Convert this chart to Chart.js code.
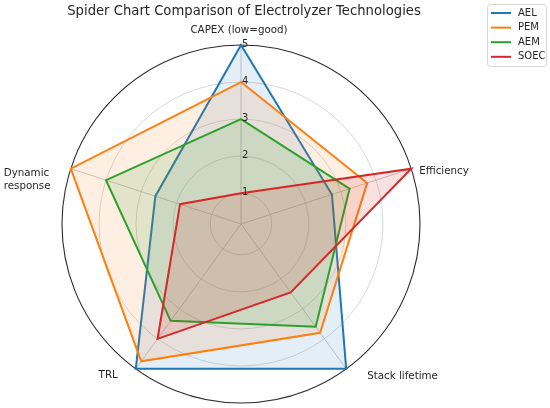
<!DOCTYPE html>
<html>
<head>
<meta charset="utf-8">
<script src="https://cdn.jsdelivr.net/npm/chart.js@4.4.0/dist/chart.umd.min.js"></script>
<style>
  html, body { margin: 0; padding: 0; background: #fff; }
  #wrap { width: 550px; height: 408px; }
</style>
</head>
<body>
<div id="wrap"><canvas id="myChart" width="550" height="408"></canvas></div>
<script>
// data
const axisLabels = ['CAPEX (low=good)', 'Efficiency', 'Stack lifetime', 'TRL', ['Dynamic', 'response']];
const techNames = ['AEL', 'PEM', 'AEM', 'SOEC'];
const aelScores = [5, 2.75, 5, 5, 2.6];
const pemScores = [4, 3.75, 3.8, 4.75, 5];
const aemScores = [3, 3.25, 3.6, 3.4, 4];
const soecScores = [1, 5, 2.45, 4, 1.9];
const tickValues = [1, 2, 3, 4, 5];
const rMin = 0.17;
const rMax = 5;
const chartTitle = 'Spider Chart Comparison of Electrolyzer Technologies';

const colors = ['#1f77b4', '#ff7f0e', '#2ca02c', '#d62728'];
const fills = ['rgba(31,119,180,0.12)', 'rgba(255,127,14,0.12)', 'rgba(44,160,44,0.14)', 'rgba(214,39,40,0.14)'];
const allScores = [aelScores, pemScores, aemScores, soecScores];

const FONT = '"DejaVu Sans", Verdana, sans-serif';

// label offsets from the outer point of each spoke
const labelPlace = [
    { dx: -2, dy: -15, align: 'center' },
    { dx: 8, dy: 3, align: 'left' },
    { dx: 21, dy: 8, align: 'left' },
    { dx: -18, dy: 7, align: 'right' },
    { dx: -67, dy: 5, align: 'left' }
];

const decor = {
    id: 'decor',
    afterDraw(chart) {
        const ctx = chart.ctx;
        const scale = chart.scales.r;
        ctx.save();
        ctx.fillStyle = '#262626';

        // titre
        ctx.font = '13.2px ' + FONT;
        ctx.textAlign = 'center';
        ctx.textBaseline = 'middle';
        ctx.fillText(chartTitle, 244, 12);

        // labels des axes
        ctx.font = '10.3px ' + FONT;
        for (let i = 0; i < axisLabels.length; i++) {
            const p = scale.getPointPosition(i, scale.drawingArea);
            const pl = labelPlace[i];
            ctx.textAlign = pl.align;
            const lines = Array.isArray(axisLabels[i]) ? axisLabels[i] : [axisLabels[i]];
            lines.forEach((line, k) => {
                ctx.fillText(line, p.x + pl.dx, p.y + pl.dy + k * 12.4);
            });
        }

        // ticks 1..5
        ctx.font = '10px ' + FONT;
        ctx.textAlign = 'left';
        ctx.textBaseline = 'alphabetic';
        tickValues.forEach(v => {
            const p = scale.getPointPositionForValue(0, v);
            ctx.fillText(String(v), p.x + 1, p.y + 2);
        });

        // legende
        const lx = 487, ly = 4, lw = 59, lh = 62;
        ctx.beginPath();
        ctx.roundRect(lx + 0.5, ly + 0.5, lw, lh, 3);
        ctx.fillStyle = 'rgba(255,255,255,0.85)';
        ctx.fill();
        ctx.strokeStyle = '#d6d6d6';
        ctx.lineWidth = 1;
        ctx.stroke();
        ctx.font = '10px ' + FONT;
        ctx.textBaseline = 'middle';
        for (let i = 0; i < techNames.length; i++) {
            const y = 13 + i * 14.6;
            ctx.beginPath();
            ctx.moveTo(491, y);
            ctx.lineTo(511, y);
            ctx.strokeStyle = colors[i];
            ctx.lineWidth = 2;
            ctx.stroke();
            ctx.fillStyle = '#262626';
            ctx.fillText(techNames[i], 518, y);
        }
        ctx.restore();
    }
};

const datasets = techNames.map((name, i) => ({
    label: name,
    data: allScores[i],
    borderColor: colors[i],
    backgroundColor: fills[i],
    borderWidth: 2,
    pointRadius: 0,
    fill: true,
    order: techNames.length - i
}));

const ctx = document.getElementById('myChart').getContext('2d');
const myChart = new Chart(ctx, {
    type: 'radar',
    data: {
        labels: axisLabels,
        datasets: datasets
    },
    options: {
        responsive: false,
        animation: false,
        devicePixelRatio: 1,
        layout: {
            padding: { left: 62, top: 45, right: 130, bottom: 5 }
        },
        plugins: {
            legend: { display: false },
            title: { display: false },
            tooltip: { enabled: false }
        },
        elements: {
            line: { tension: 0, borderJoinStyle: 'miter' }
        },
        scales: {
            r: {
                min: rMin,
                max: rMax,
                afterBuildTicks: s => {
                    s.ticks = [rMin].concat(tickValues).map(v => ({ value: v }));
                },
                ticks: { display: false },
                pointLabels: { display: false },
                grid: {
                    circular: true,
                    color: c => (c.tick && c.tick.value === rMax) ? '#2b2b2b' : '#d4d4d4',
                    lineWidth: c => (c.tick && c.tick.value === rMax) ? 1.1 : 0.9
                },
                angleLines: {
                    color: '#c4c4c4',
                    lineWidth: 0.9
                }
            }
        }
    },
    plugins: [decor]
});
</script>
</body>
</html>
